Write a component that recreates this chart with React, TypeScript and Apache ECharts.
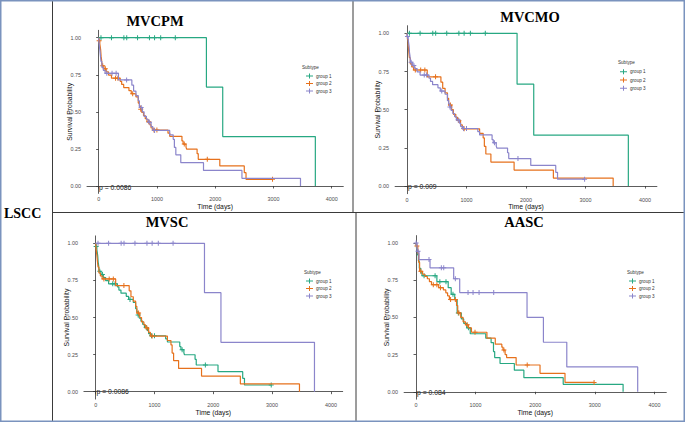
import React, { useEffect, useRef } from "react";
import * as echarts from "echarts";

// ---------------- data ----------------
const PANEL_TITLES = ["MVCPM", "MVCMO", "MVSC", "AASC"];
const P_VALUES = ["p = 0.0086", "p = 0.009", "p = 0.0086", "p = 0.084"];
const GROUP_NAMES = ["group 1", "group 2", "group 3"];
const LEGEND_TITLE = "Subtype";
const ROW_LABEL = "LSCC";
const X_NAME = "Time (days)";
const Y_NAME = "Survival Probability";
const X_TICKS = [0, 1000, 2000, 3000, 4000];
const Y_TICKS = [0, 0.25, 0.5, 0.75, 1];

// Kaplan-Meier curves: [time, survival after event], censoring times
const curveAEvents = [[0, 1], [1850, 0.667], [2130, 0.333], [3720, 0]];
const curveACensor = [40, 220, 433, 482, 668, 872, 960, 1065, 1316];

const curveBEvents = [
  [0, 1], [5, 0.979], [20, 0.958], [28, 0.937], [35, 0.916], [42, 0.874], [50, 0.853],
  [58, 0.811], [90, 0.79], [130, 0.769], [170, 0.748], [220, 0.727], [370, 0.706],
  [395, 0.685], [430, 0.664], [520, 0.643], [560, 0.622], [640, 0.601], [680, 0.559],
  [700, 0.538], [720, 0.517], [740, 0.496], [770, 0.475], [800, 0.454], [830, 0.433],
  [880, 0.412], [900, 0.391], [930, 0.377], [1190, 0.356], [1220, 0.335], [1430, 0.304],
  [1450, 0.283], [1500, 0.262], [1510, 0.249], [1690, 0.218], [1710, 0.18], [2080, 0.135],
  [2500, 0.09], [2530, 0.045],
];
const curveBCensor = [8, 70, 115, 290, 330, 584, 722, 860, 950, 1000, 1470, 1865, 2985];

const curveCEvents = [
  [0, 1], [8, 0.96], [20, 0.92], [30, 0.88], [40, 0.84], [55, 0.8], [80, 0.78], [110, 0.76],
  [340, 0.715], [570, 0.68], [600, 0.64], [640, 0.61], [680, 0.575], [700, 0.53], [750, 0.5],
  [780, 0.47], [820, 0.45], [850, 0.43], [900, 0.4], [930, 0.375], [1220, 0.345],
  [1280, 0.315], [1300, 0.26], [1325, 0.21], [1410, 0.157], [1800, 0.105], [2460, 0.052],
  [3465, 0],
];
const curveCCensor = [140, 230, 300, 480, 730, 870, 960];

const curveDEvents = [
  [0, 1], [10, 0.96], [25, 0.92], [40, 0.88], [55, 0.83], [80, 0.8], [100, 0.78], [350, 0.74],
  [540, 0.7], [590, 0.655], [650, 0.62], [690, 0.53], [760, 0.49], [800, 0.46], [850, 0.43],
  [910, 0.39], [1170, 0.36], [1260, 0.33], [1300, 0.27], [1320, 0.23], [1410, 0.19],
  [1650, 0.145], [1810, 0.095], [2470, 0.05], [3475, 0],
];
const curveDCensor = [135, 320, 400, 503, 620, 710, 880];

const curveEEvents = [
  [0, 1], [5, 0.98], [30, 0.93], [45, 0.87], [60, 0.81], [110, 0.79], [150, 0.775], [190, 0.76],
  [225, 0.74], [260, 0.72], [380, 0.7], [460, 0.685], [500, 0.665], [530, 0.645], [560, 0.62],
  [680, 0.58], [700, 0.53], [750, 0.5], [790, 0.47], [830, 0.45], [880, 0.43], [930, 0.4],
  [1190, 0.36], [1330, 0.32], [1440, 0.3], [1460, 0.28], [1495, 0.25], [1520, 0.23],
  [1680, 0.18], [2081, 0.124], [2500, 0.063],
];
const curveECensor = [15, 80, 290, 350, 410, 580, 660, 720, 860, 990, 1475, 1866, 2988];

const curveFEvents = [
  [0, 1], [17, 0.944], [50, 0.889], [235, 0.833], [632, 0.76], [733, 0.667], [1863, 0.5],
  [2138, 0.333], [2530, 0.167], [3720, 0],
];
const curveFCensor = [2, 34, 218, 425, 465, 660, 873, 957, 1058, 1304];

const CURVES: Record<string, { events: number[][]; censor: number[] }> = {
  A: { events: curveAEvents, censor: curveACensor },
  B: { events: curveBEvents, censor: curveBCensor },
  C: { events: curveCEvents, censor: curveCCensor },
  D: { events: curveDEvents, censor: curveDCensor },
  E: { events: curveEEvents, censor: curveECensor },
  F: { events: curveFEvents, censor: curveFCensor },
};
// which curve is group 1 / 2 / 3 in each panel
const PANEL_CURVES = [
  ["A", "B", "C"],
  ["A", "C", "B"],
  ["B", "C", "A"],
  ["D", "E", "F"],
];

// ---------------- styles / layout ----------------
const GROUP_COLORS = ["#27A882", "#E6711C", "#8B85CB"];
const GRIDS = [
  { left: 87, top: 30.3, width: 256.3, height: 163.1 },
  { left: 395.1, top: 25.7, width: 261.8, height: 168 },
  { left: 83.9, top: 235.9, width: 258.8, height: 163.2 },
  { left: 404.1, top: 235.6, width: 262.2, height: 163.6 },
];
const TITLE_POS = [[155, 21], [530, 17], [167, 222], [524, 222]];
const PVAL_POS = [[99, 187], [408, 186], [96.5, 391.7], [417, 392]];
const LEGEND_POS = [
  { left: 306, top: 73.5, gap: 2.5, tx: 302, ty: 67.7 },
  { left: 620, top: 69.2, gap: 3.3, tx: 618, ty: 62.7 },
  { left: 306, top: 278.5, gap: 2.5, tx: 304, ty: 272.7 },
  { left: 629, top: 278.5, gap: 2.5, tx: 627, ty: 272.7 },
];
const PLUS = "path://M4,0H6V4H10V6H6V10H4V6H0V4H4Z";
const LEGEND_ICON = "path://M0,4H6V0H8V4H14V6H8V10H6V6H0Z";
const SANS = "'Liberation Sans', Arial, sans-serif";
const SERIF = "'Liberation Serif', 'Times New Roman', serif";

function survivalAt(events: number[][], t: number) {
  let s = 1;
  for (const [et, es] of events) if (et <= t) s = es;
  return s;
}

function buildData(events: number[][], censor: number[]) {
  const items: any[] = [
    ...events.map(([t, s]) => ({ value: [t, s], symbol: "none", o: 0 })),
    ...censor.map((t) => ({ value: [t, survivalAt(events, t)], o: 1 })),
  ];
  items.sort((a, b) => a.value[0] - b.value[0] || a.o - b.o);
  return items.map((d) => (d.symbol ? { value: d.value, symbol: d.symbol } : { value: d.value }));
}

function buildOption() {
  const grid = GRIDS.map((g) => ({ ...g, containLabel: false }));
  const axisLineStyle = { color: "#333", width: 0.8 };
  const xAxis = GRIDS.map((_, i) => ({
    type: "value",
    gridIndex: i,
    min: -200,
    max: 4200,
    name: X_NAME,
    nameLocation: "middle",
    nameGap: 9.5,
    nameMoveOverlap: false,
    nameTextStyle: { fontSize: 6.8, color: "#111", fontFamily: SANS },
    axisLine: { show: true, lineStyle: axisLineStyle },
    axisTick: { show: true, length: 2.5, customValues: X_TICKS, lineStyle: axisLineStyle },
    axisLabel: {
      customValues: X_TICKS,
      fontSize: 5.4,
      color: "#4d4d4d",
      margin: 3.5,
      fontFamily: SANS,
      formatter: (v: number) => String(v),
    },
    splitLine: { show: false },
  }));
  const yAxis = GRIDS.map((_, i) => ({
    type: "value",
    gridIndex: i,
    min: -0.05,
    max: 1.05,
    name: Y_NAME,
    nameLocation: "middle",
    nameGap: 14,
    nameRotate: 90,
    nameMoveOverlap: false,
    nameTextStyle: { fontSize: 6.8, color: "#111", fontFamily: SANS },
    axisLine: { show: true, lineStyle: axisLineStyle },
    axisTick: { show: true, length: 2.5, customValues: Y_TICKS, lineStyle: axisLineStyle },
    axisLabel: {
      customValues: Y_TICKS,
      fontSize: 5.4,
      color: "#4d4d4d",
      margin: 6,
      fontFamily: SANS,
      formatter: (v: number) => v.toFixed(2),
    },
    splitLine: { show: false },
  }));

  const series: any[] = [];
  PANEL_CURVES.forEach((keys, p) => {
    keys.forEach((key, g) => {
      const c = CURVES[key];
      series.push({
        type: "line",
        name: GROUP_NAMES[g],
        xAxisIndex: p,
        yAxisIndex: p,
        step: "end",
        data: buildData(c.events, c.censor),
        showSymbol: true,
        symbol: PLUS,
        symbolSize: 5,
        color: GROUP_COLORS[g],
        itemStyle: { color: GROUP_COLORS[g], borderWidth: 0 },
        lineStyle: { color: GROUP_COLORS[g], width: 1.2 },
        emphasis: { disabled: true },
        silent: true,
        z: 2 + g,
      });
    });
  });

  const legend = LEGEND_POS.map((l) => ({
    data: GROUP_NAMES.map((n, i) => ({
      name: n,
      icon: LEGEND_ICON,
      itemStyle: { color: GROUP_COLORS[i], borderWidth: 0, opacity: 1 },
    })),
    orient: "vertical",
    left: l.left,
    top: l.top,
    padding: 0,
    itemWidth: 7,
    itemHeight: 5,
    itemGap: l.gap,
    icon: LEGEND_ICON,
    selectedMode: false,
    itemStyle: { borderWidth: 0 },
    textStyle: { fontSize: 4.6, lineHeight: 5, color: "#333", fontFamily: SANS, padding: [0, 0, 0, -2] },
  }));

  const graphic: any[] = [];
  PANEL_TITLES.forEach((t, i) => {
    graphic.push({
      type: "text",
      x: TITLE_POS[i][0],
      y: TITLE_POS[i][1],
      style: {
        text: t,
        fontSize: 14.5,
        fontWeight: "bold",
        fontFamily: SERIF,
        fill: "#000",
        align: "center",
        verticalAlign: "middle",
        textAlign: "center",
        textVerticalAlign: "middle",
      },
    });
    graphic.push({
      type: "text",
      x: PVAL_POS[i][0],
      y: PVAL_POS[i][1],
      style: {
        text: P_VALUES[i],
        fontSize: 6.8,
        fontFamily: SANS,
        fill: "#111",
        align: "left",
        verticalAlign: "middle",
        textAlign: "left",
        textVerticalAlign: "middle",
      },
    });
    graphic.push({
      type: "text",
      x: LEGEND_POS[i].tx,
      y: LEGEND_POS[i].ty,
      style: {
        text: LEGEND_TITLE,
        fontSize: 4.6,
        fontFamily: SANS,
        fill: "#333",
        align: "left",
        verticalAlign: "middle",
        textAlign: "left",
        textVerticalAlign: "middle",
      },
    });
  });
  graphic.push({
    type: "text",
    x: 4,
    y: 213,
    style: {
      text: ROW_LABEL,
      fontSize: 14,
      fontWeight: "bold",
      fontFamily: SERIF,
      fill: "#000",
      align: "left",
      verticalAlign: "middle",
      textAlign: "left",
      textVerticalAlign: "middle",
    },
  });
  // frame
  const dark = { stroke: "#3a3a3a", lineWidth: 1 };
  graphic.push({ type: "line", shape: { x1: 52.5, y1: 0, x2: 52.5, y2: 422 }, style: dark });
  graphic.push({ type: "line", shape: { x1: 52.5, y1: 212.5, x2: 685, y2: 212.5 }, style: dark });
  graphic.push({ type: "line", shape: { x1: 353, y1: 0, x2: 353, y2: 212.5 }, style: dark });
  graphic.push({ type: "line", shape: { x1: 356, y1: 212.5, x2: 356, y2: 422 }, style: dark });
  graphic.push({
    type: "rect",
    shape: { x: 0.75, y: 0.75, width: 683.5, height: 420.5 },
    style: { fill: "none", stroke: "#7a93be", lineWidth: 1.5 },
  });

  return {
    animation: false,
    backgroundColor: "#ffffff",
    textStyle: { fontFamily: SANS },
    grid,
    xAxis,
    yAxis,
    series,
    legend,
    graphic,
  };
}

export default function App() {
  const ref = useRef<HTMLDivElement>(null);
  useEffect(() => {
    document.body.style.margin = "0";
    if (!ref.current) return;
    const chart = echarts.init(ref.current, null, { renderer: "svg" });
    chart.setOption(buildOption() as any);
    return () => chart.dispose();
  }, []);
  return <div ref={ref} style={{ width: 685, height: 422 }} />;
}
